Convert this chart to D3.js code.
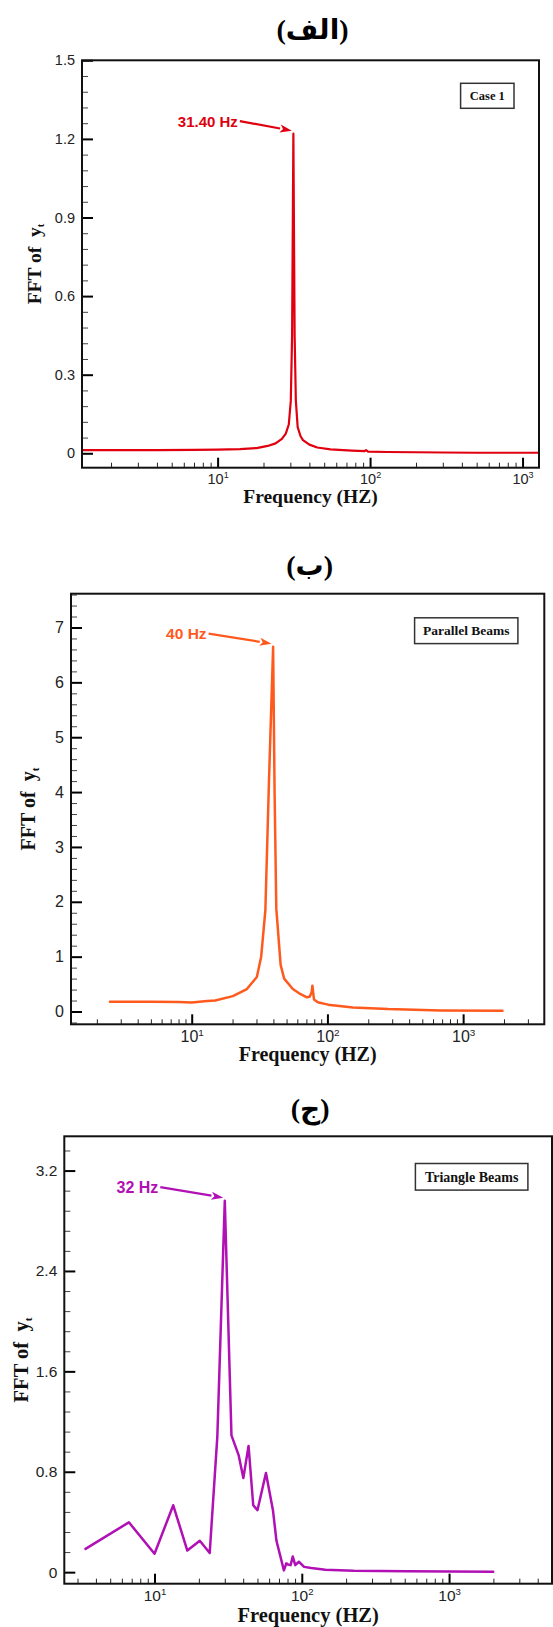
<!DOCTYPE html>
<html><head><meta charset="utf-8">
<script src="https://cdn.jsdelivr.net/npm/d3@7"></script>
<style>
html,body{margin:0;padding:0;background:#fff;}
svg{display:block;}
</style></head>
<body>
<svg id="chart" width="553" height="1627"></svg>
<script>
// ---------- DATA ----------
// Panel (الف) – Case 1
const freq1 = [1.29, 2, 4, 7, 10, 14, 18, 21.3, 24, 26.4, 28, 29.3, 30.2, 30.8, 31.4, 32.0, 32.6, 33.5, 35, 36.3, 40, 45, 55, 76, 92, 94, 97, 130, 200, 300, 500, 800, 1282];
const amp1  = [0.012, 0.012, 0.012, 0.013, 0.014, 0.016, 0.020, 0.028, 0.038, 0.055, 0.075, 0.11, 0.2, 0.45, 1.22, 0.45, 0.2, 0.1, 0.065, 0.05, 0.033, 0.022, 0.015, 0.010, 0.008, 0.012, 0.006, 0.005, 0.004, 0.003, 0.002, 0.002, 0.002];
// Panel (ب) – Parallel Beams
const freq2 = [2.5, 5, 8, 10, 13, 14.9, 20.1, 25.5, 30.2, 32.5, 34.9, 37.1, 39.8, 40.8, 42, 45.2, 48, 55.6, 63, 70.6, 74, 76.5, 77.5, 79.6, 85, 101, 154, 280, 686, 1950];
const amp2  = [0.18, 0.18, 0.175, 0.165, 0.19, 0.2, 0.28, 0.41, 0.63, 1.0, 1.85, 4.2, 6.65, 4.0, 1.88, 0.85, 0.6, 0.41, 0.32, 0.26, 0.27, 0.35, 0.47, 0.22, 0.17, 0.125, 0.075, 0.044, 0.02, 0.013];
// Panel (ج) – Triangle Beams
const freq3 = [3.4, 6.7, 10, 13.4, 16.7, 20.3, 23.7, 26.7, 30.0, 33.3, 37.3, 40.1, 43.5, 46.8, 50, 57.1, 63.7, 67.3, 75.6, 78.5, 80.8, 84, 86.8, 90.3, 95.5, 103.7, 115.9, 144.5, 225, 515, 1995];
const amp3  = [0.186, 0.397, 0.147, 0.533, 0.172, 0.25, 0.153, 1.08, 2.96, 1.09, 0.93, 0.75, 1.006, 0.533, 0.494, 0.79, 0.494, 0.25, 0.014, 0.07, 0.06, 0.056, 0.125, 0.056, 0.083, 0.042, 0.033, 0.019, 0.011, 0.008, 0.003];

const panelTitles = ["(الف)", "(ب)", "(ج)"];
const legendLabels = ["Case 1", "Parallel Beams", "Triangle Beams"];
const peakLabels = ["31.40 Hz", "40 Hz", "32 Hz"];
const peakFreqs = [31.4, 39.8, 30.0];
const peakAmps = [1.22, 6.65, 2.96];
const xMajorTicks = [10, 100, 1000];
const xTickExponents = ["1", "2", "3"];
const yTicks1 = [0, 0.3, 0.6, 0.9, 1.2, 1.5];
const yTicks2 = [0, 1, 2, 3, 4, 5, 6, 7];
const yTicks3 = [0, 0.8, 1.6, 2.4, 3.2];
const yMinorStep = [0.06, 0.2, 0.16];
const xAxisTitle = "Frequency (HZ)";

// ---------- DRAW ----------
const svg = d3.select("#chart");
const defs = svg.append("defs");

function drawPanel(p) {
  const x = d3.scaleLog().domain(p.xDomain).range([p.left, p.right]);
  const y = d3.scaleLinear().domain(p.yDomain).range([p.bottom, p.top]);
  const g = svg.append("g");

  const cid = "clip" + p.id;
  defs.append("clipPath").attr("id", cid).append("rect")
    .attr("x", p.left).attr("y", p.top).attr("width", p.right - p.left).attr("height", p.bottom - p.top);

  // y minor ticks
  const minorY = d3.range(Math.ceil(p.yDomain[0] / p.yMinor) * p.yMinor, p.yDomain[1] + 1e-9, p.yMinor)
    .filter(v => !p.yTicks.some(t => Math.abs(t - v) < 1e-6));
  const yMin = g.append("g").attr("transform", `translate(${p.left},0)`)
    .call(d3.axisLeft(y).tickValues(minorY).tickSize(-6).tickFormat(""));
  yMin.select(".domain").remove();
  yMin.selectAll("line").attr("stroke", "#444").attr("stroke-width", 1);

  const yMaj = g.append("g").attr("transform", `translate(${p.left},0)`)
    .call(d3.axisLeft(y).tickValues(p.yTicks).tickSize(-11).tickPadding(7).tickFormat(p.yFmt));
  yMaj.select(".domain").remove();
  yMaj.selectAll("line").attr("stroke", "#000").attr("stroke-width", 2);
  yMaj.selectAll("text").attr("font-family", "'Liberation Sans', Arial, sans-serif")
    .attr("font-size", p.tickFont).attr("fill", "#222");

  // x minor ticks
  const minorX = [];
  for (let e = -1; e <= 4; e++) for (let m = 2; m <= 9; m++) {
    const v = m * Math.pow(10, e);
    if (v > p.xDomain[0] && v < p.xDomain[1]) minorX.push(v);
  }
  const xMin = g.append("g").attr("transform", `translate(0,${p.bottom})`)
    .call(d3.axisBottom(x).tickValues(minorX).tickSize(-5).tickFormat(""));
  xMin.select(".domain").remove();
  xMin.selectAll("line").attr("stroke", "#222").attr("stroke-width", 1);

  const xMaj = g.append("g").attr("transform", `translate(0,${p.bottom})`)
    .call(d3.axisBottom(x).tickValues(xMajorTicks).tickSize(-10).tickFormat(""));
  xMaj.select(".domain").remove();
  xMaj.selectAll("line").attr("stroke", "#000").attr("stroke-width", 2);
  xMaj.selectAll(".tick").each(function(d, i) {
    const t = d3.select(this).append("text")
      .attr("y", p.tickFont * 1.1 + 0.5).attr("x", 0)
      .attr("text-anchor", "middle")
      .attr("font-family", "'Liberation Sans', Arial, sans-serif")
      .attr("font-size", p.tickFont).attr("fill", "#222");
    t.append("tspan").text("10");
    t.append("tspan").attr("font-size", p.tickFont * 0.62).attr("dy", -p.tickFont * 0.42).text(xTickExponents[i]);
  });

  // data line
  const data = p.freq.map((f, i) => [f, p.amp[i]]);
  g.append("path").datum(data)
    .attr("clip-path", `url(#${cid})`)
    .attr("fill", "none").attr("stroke", p.color).attr("stroke-width", p.lineW)
    .attr("stroke-linejoin", "round").attr("stroke-linecap", "round")
    .attr("d", d3.line().x(d => x(d[0])).y(d => y(d[1])));

  // frame
  g.append("rect").attr("x", p.left).attr("y", p.top)
    .attr("width", p.right - p.left).attr("height", p.bottom - p.top)
    .attr("fill", "none").attr("stroke", "#111").attr("stroke-width", 2);

  // annotation arrow
  const tipX = x(p.peakF) - 1.5, tipY = y(p.peakA) - 3;
  const sx = tipX + p.arrowDx, sy = tipY + p.arrowDy;
  const ang = Math.atan2(tipY - sy, tipX - sx);
  const hl = 12, hw = 4;
  const bx = tipX - hl * Math.cos(ang), by = tipY - hl * Math.sin(ang);
  g.append("line").attr("x1", sx).attr("y1", sy).attr("x2", bx).attr("y2", by)
    .attr("stroke", p.color).attr("stroke-width", 2.2);
  g.append("path")
    .attr("d", `M${tipX},${tipY}L${bx + hw * Math.sin(ang)},${by - hw * Math.cos(ang)}L${bx + 3 * Math.cos(ang)},${by + 3 * Math.sin(ang)}L${bx - hw * Math.sin(ang)},${by + hw * Math.cos(ang)}Z`)
    .attr("fill", p.color);
  g.append("text").attr("x", sx - 2).attr("y", sy + p.labelFont * 0.36)
    .attr("text-anchor", "end")
    .attr("font-family", "'Liberation Sans', Arial, sans-serif").attr("font-weight", "bold")
    .attr("font-size", p.labelFont).attr("fill", p.color).text(p.peakLabel);

  // legend box
  g.append("rect").attr("x", p.legend[0]).attr("y", p.legend[1])
    .attr("width", p.legend[2]).attr("height", p.legend[3])
    .attr("fill", "#fff").attr("stroke", "#333").attr("stroke-width", 1.5);
  g.append("text").attr("x", p.legend[0] + p.legend[2] / 2).attr("y", p.legend[1] + p.legend[3] / 2 + p.legendFont * 0.34)
    .attr("text-anchor", "middle")
    .attr("font-family", "'Liberation Serif', 'Times New Roman', serif").attr("font-weight", "bold")
    .attr("font-size", p.legendFont).attr("fill", "#111").text(p.legendLabel);

  // panel title
  g.append("text").attr("x", (p.left + p.right) / 2 + 2).attr("y", p.titleY)
    .attr("text-anchor", "middle").attr("direction", "ltr")
    .attr("font-family", "'Liberation Serif', 'DejaVu Sans', serif").attr("font-weight", "bold")
    .attr("font-size", 28).attr("fill", "#000").text(p.title);

  // x-axis title
  g.append("text").attr("x", (p.left + p.right) / 2).attr("y", p.bottom + p.xTitleDy)
    .attr("text-anchor", "middle")
    .attr("font-family", "'Liberation Serif', 'Times New Roman', serif").attr("font-weight", "bold")
    .attr("font-size", p.axisFont).attr("fill", "#111").text(xAxisTitle);

  // y-axis title
  const cy = (p.top + p.bottom) / 2;
  const yt = g.append("text").attr("transform", `translate(${p.left - p.yTitleDx},${cy}) rotate(-90)`)
    .attr("text-anchor", "middle")
    .attr("font-family", "'Liberation Serif', 'Times New Roman', serif").attr("font-weight", "bold")
    .attr("font-size", p.axisFont).attr("fill", "#111");
  yt.append("tspan").text("FFT of");
  yt.append("tspan").attr("dx", p.axisFont * 0.5).text("y");
  yt.append("tspan").attr("font-size", p.axisFont * 0.55).attr("dy", p.axisFont * 0.2).text("t");
}

drawPanel({
  id: 1, left: 82, right: 539, top: 60.3, bottom: 467.7,
  xDomain: [1.29, 1282], yDomain: [-0.055, 1.5],
  yTicks: yTicks1, yMinor: yMinorStep[0], yFmt: d => d === 0 ? "0" : d3.format(".1f")(d),
  freq: freq1, amp: amp1, color: "#e0000f", lineW: 2.2,
  peakF: peakFreqs[0], peakA: peakAmps[0], peakLabel: peakLabels[0], arrowDx: -52, arrowDy: -9.5, labelFont: 15,
  legend: [460.6, 83.3, 53.4, 25], legendLabel: legendLabels[0], legendFont: 12.5,
  title: panelTitles[0], titleY: 39, tickFont: 14.5, axisFont: 19.5, xTitleDy: 35, yTitleDx: 41.5
});
drawPanel({
  id: 2, left: 71, right: 544.3, top: 593.7, bottom: 1024.3,
  xDomain: [1.29, 3963], yDomain: [-0.233, 7.616],
  yTicks: yTicks2, yMinor: yMinorStep[1], yFmt: d3.format("d"),
  freq: freq2, amp: amp2, color: "#ff5a1e", lineW: 2.5,
  peakF: peakFreqs[1], peakA: peakAmps[1], peakLabel: peakLabels[1], arrowDx: -63, arrowDy: -10, labelFont: 15.5,
  legend: [414.6, 617.8, 103.3, 25.8], legendLabel: legendLabels[1], legendFont: 13.5,
  title: panelTitles[1], titleY: 575, tickFont: 16, axisFont: 20, xTitleDy: 37, yTitleDx: 36
});
drawPanel({
  id: 3, left: 64.3, right: 552, top: 1136.3, bottom: 1583.7,
  xDomain: [2.44, 5000], yDomain: [-0.092, 3.473],
  yTicks: yTicks3, yMinor: yMinorStep[2], yFmt: d => d === 0 ? "0" : d3.format(".1f")(d),
  freq: freq3, amp: amp3, color: "#b010b4", lineW: 2.5,
  peakF: peakFreqs[2], peakA: peakAmps[2], peakLabel: peakLabels[2], arrowDx: -63, arrowDy: -10.5, labelFont: 16,
  legend: [415.4, 1163.5, 112.5, 26.6], legendLabel: legendLabels[2], legendFont: 14,
  title: panelTitles[2], titleY: 1118, tickFont: 15.5, axisFont: 20.5, xTitleDy: 38, yTitleDx: 36
});
</script>
</body></html>
